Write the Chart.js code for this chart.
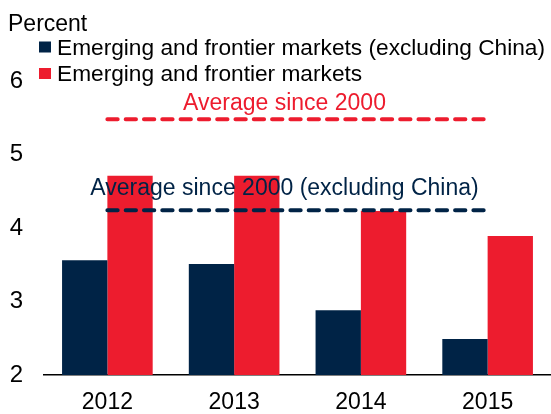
<!DOCTYPE html>
<html>
<head>
<meta charset="utf-8">
<script src="https://cdn.jsdelivr.net/npm/chart.js@4.4.0/dist/chart.umd.min.js"></script>
<style>
  body { margin: 0; background: #fff; }
</style>
</head>
<body>
<canvas id="myChart" width="551" height="414"></canvas>
<script>
'use strict';

// x axis categories
var years = ['2012', '2013', '2014', '2015'];
// growth in percent
var exChina = [3.56, 3.51, 2.88, 2.49];
var allMarkets = [4.71, 4.71, 4.23, 3.89];
// averages since 2000 (dashed lines)
var avgExChina = [4.24, 4.24, 4.24, 4.24];
var avgAll = [5.48, 5.48, 5.48, 5.48];
// y axis ticks
var yTicks = [2, 3, 4, 5, 6];

var seriesNames = ['Emerging and frontier markets (excluding China)', 'Emerging and frontier markets'];
var avgNames = ['Average since 2000 (excluding China)', 'Average since 2000'];
var unitLabel = 'Percent';

var NAVY = '#002346';
var RED = '#ED1C2E';
var FONT = '"Liberation Sans", Arial, sans-serif';

(function () {
   // draws the unit label, the legend and the text over the dashed lines
   var annotations = {
      id: 'annotations',
      afterDatasetsDraw: function (chart) {
         var ctx = chart.ctx;
         var x = chart.scales.x;
         var y = chart.scales.y;
         var mid = (x.getPixelForValue(0) + x.getPixelForValue(years.length - 1)) / 2 - 13;

         ctx.save();
         ctx.textAlign = 'center';
         ctx.textBaseline = 'alphabetic';
         ctx.font = '23px ' + FONT;
         ctx.fillStyle = RED;
         ctx.fillText(avgNames[1], mid, y.getPixelForValue(avgAll[0]) - 9);
         ctx.fillStyle = NAVY;
         ctx.fillText(avgNames[0], mid, y.getPixelForValue(avgExChina[0]) - 15);

         // unit label
         ctx.textAlign = 'left';
         ctx.fillStyle = '#000';
         ctx.font = '23px ' + FONT;
         ctx.fillText(unitLabel, 8, 31);

         // legend, one row per bar series
         ctx.font = '22.7px ' + FONT;
         var colors = [NAVY, RED];
         for (var i = 0; i < seriesNames.length; i++) {
            var rowY = 47 + i * 26.5;
            ctx.fillStyle = colors[i];
            ctx.fillRect(39, rowY - 5.5, 12, 11);
            ctx.fillStyle = '#000';
            ctx.fillText(seriesNames[i], 57, rowY + 7.5);
         }
         ctx.restore();
      }
   };

   var dashed = function (label, data, color) {
      return {
         type: 'line',
         label: label,
         data: data,
         borderColor: color,
         borderWidth: 4,
         borderDash: [10.3, 8],
         borderCapStyle: 'round',
         pointRadius: 0,
         fill: false,
         order: 0
      };
   };

   var ctx = document.getElementById('myChart');
   var myChart = new Chart(ctx, {
      type: 'bar',
      data: {
         labels: years,
         datasets: [
            dashed(avgNames[0], avgExChina, NAVY),
            dashed(avgNames[1], avgAll, RED),
            { label: seriesNames[0], data: exChina, backgroundColor: NAVY, order: 1 },
            { label: seriesNames[1], data: allMarkets, backgroundColor: RED, order: 1 }
         ]
      },
      options: {
         responsive: false,
         animation: false,
         layout: { padding: { top: 81, right: -3, left: 0, bottom: 0 } },
         datasets: {
            bar: { categoryPercentage: 0.715, barPercentage: 1.0 }
         },
         plugins: {
            legend: { display: false },
            tooltip: { enabled: false }
         },
         scales: {
            x: {
               grid: { display: false },
               border: { display: true, color: '#000', width: 1.5 },
               ticks: { color: '#000', font: { family: FONT, size: 23 }, padding: 6 },
               afterFit: function (s) { s.height = 39; }
            },
            y: {
               min: yTicks[0],
               max: yTicks[yTicks.length - 1],
               grid: { display: false, drawTicks: false },
               border: { display: false },
               ticks: { color: '#000', stepSize: 1, font: { family: FONT, size: 24 }, padding: 21 },
               afterBuildTicks: function (axis) {
                  axis.ticks = yTicks.map(function (v) { return { value: v }; });
               },
               afterFit: function (s) { s.width = 44; }
            }
         }
      },
      plugins: [annotations]
   });
})();
</script>
</body>
</html>
